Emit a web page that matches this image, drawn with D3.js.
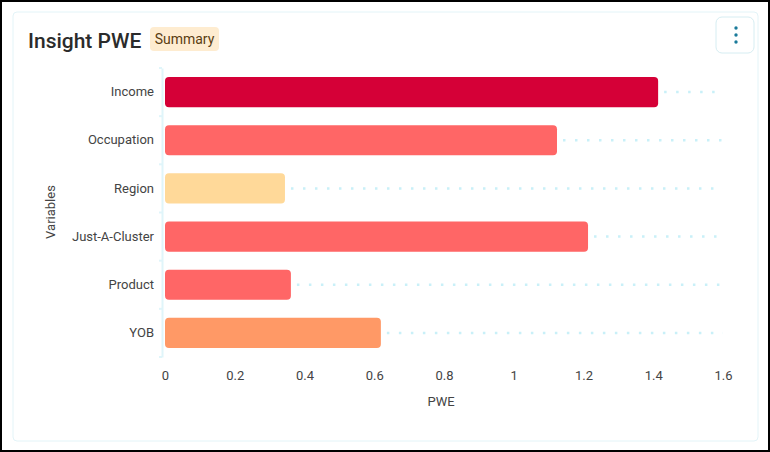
<!DOCTYPE html>
<html><head><meta charset="utf-8">
<script src="https://cdn.jsdelivr.net/npm/d3@7"></script>
<style>
body{margin:0;background:#fff;font-family:Roboto,sans-serif;}
</style></head><body>
<script>
const categories = ['Income','Occupation','Region','Just-A-Cluster','Product','YOB'];
const values = [1.414, 1.124, 0.344, 1.213, 0.361, 0.619];
const colors = ['#d50037','#ff6666','#ffd999','#ff6666','#ff6666','#ff9966'];
const ticks = [0,0.2,0.4,0.6,0.8,1,1.2,1.4,1.6];

const W = 770, H = 452;
const svg = d3.select('body').append('svg').attr('width',W).attr('height',H);

// outer frame + card
svg.append('rect').attr('x',1).attr('y',1).attr('width',W-2).attr('height',H-2)
  .attr('fill','#fff').attr('stroke','#000').attr('stroke-width',2);
svg.append('rect').attr('x',13).attr('y',12).attr('width',745).attr('height',429).attr('rx',4)
  .attr('fill','#fff').attr('stroke','#e3f4f8');

// title + badge
svg.append('text').attr('x',28).attr('y',48).attr('font-size',21).attr('fill','#2b2b2b')
  .attr('font-weight',500).text('Insight PWE');
svg.append('rect').attr('x',150).attr('y',27).attr('width',69).attr('height',24).attr('rx',4).attr('fill','#feecd0');
svg.append('text').attr('x',184.5).attr('y',44).attr('text-anchor','middle').attr('font-size',14)
  .attr('fill','#5a3d10').text('Summary');

// menu button
svg.append('rect').attr('x',716).attr('y',17).attr('width',38).attr('height',36).attr('rx',6)
  .attr('fill','#fff').attr('stroke','#d6edf2');
[28,35,42].forEach(y=>svg.append('circle').attr('cx',736).attr('cy',y).attr('r',1.7).attr('fill','#1a7a9a'));

const x = d3.scaleLinear().domain([0,1.6]).range([165,723]);
const y = d3.scaleBand().domain(categories).range([68,357]).paddingInner(0.375).paddingOuter(0.1875);

// dotted guides
svg.append('g').selectAll('line').data(categories).join('line')
  .attr('x1',(d,i)=>x(values[i])+6).attr('x2',x(1.6))
  .attr('y1',d=>y(d)+y.bandwidth()/2).attr('y2',d=>y(d)+y.bandwidth()/2)
  .attr('stroke','#c9f0f8').attr('stroke-width',2.5).attr('stroke-dasharray','2.5,9.5');

// y axis
const ya = svg.append('g').attr('transform','translate(162,0)')
  .call(d3.axisLeft(y).tickSize(0).tickPadding(8));
ya.select('.domain').attr('stroke','#e0f5fa').attr('stroke-width',2);
ya.selectAll('text').attr('font-size',13).attr('fill','#444').attr('font-family','Roboto');
svg.append('g').selectAll('line').data(d3.range(7)).join('line')
  .attr('x1',159).attr('x2',162)
  .attr('y1',i=>68+i*(289/6)).attr('y2',i=>68+i*(289/6))
  .attr('stroke','#e0f5fa').attr('stroke-width',2);

// bars
svg.append('g').selectAll('rect').data(categories).join('rect')
  .attr('x',x(0)).attr('y',d=>y(d)).attr('height',y.bandwidth())
  .attr('width',(d,i)=>x(values[i])-x(0)).attr('rx',4)
  .attr('fill',(d,i)=>colors[i]);

// x axis
const xa = svg.append('g').attr('transform','translate(0,366)')
  .call(d3.axisBottom(x).tickValues(ticks).tickFormat(d3.format('~g')).tickSize(0).tickPadding(5));
xa.select('.domain').remove();
xa.selectAll('text').attr('font-size',13).attr('fill','#444').attr('font-family','Roboto');

svg.append('text').attr('x',441).attr('y',406).attr('text-anchor','middle').attr('font-size',13)
  .attr('fill','#444').text('PWE');
svg.append('text').attr('transform','translate(55,212) rotate(-90)').attr('text-anchor','middle')
  .attr('font-size',13).attr('fill','#444').text('Variables');
</script>
</body></html>
